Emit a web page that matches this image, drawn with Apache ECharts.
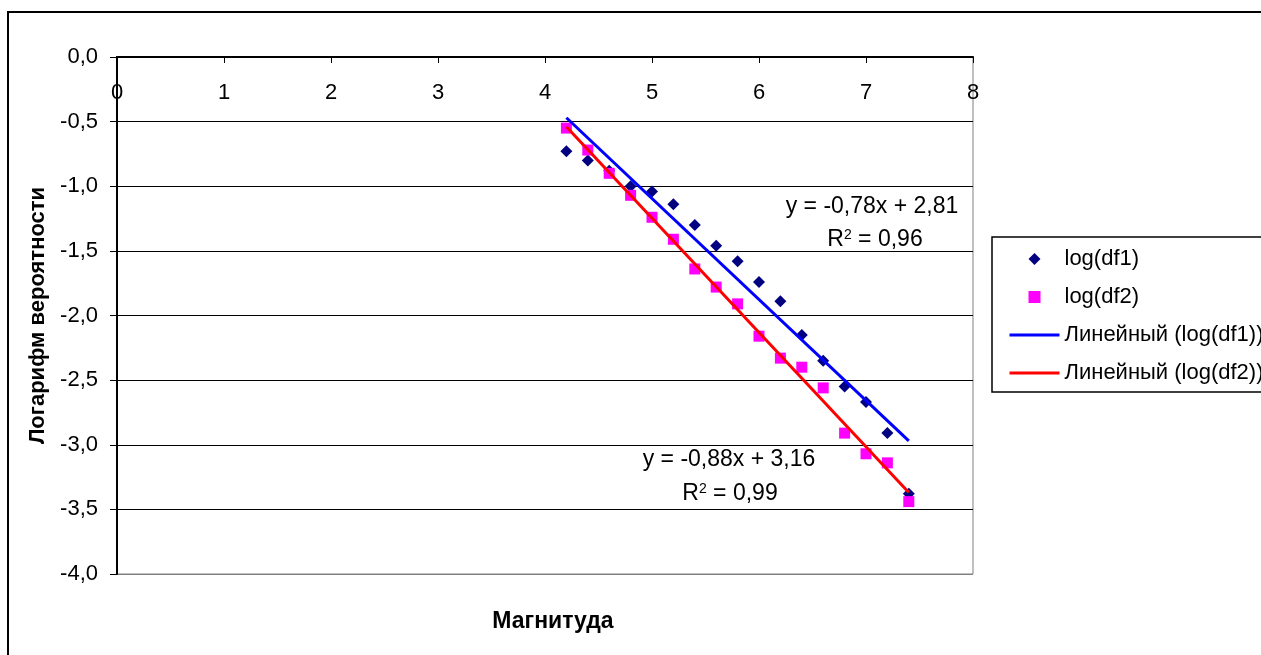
<!DOCTYPE html>
<html>
<head>
<meta charset="utf-8">
<script src="https://cdn.jsdelivr.net/npm/echarts@6/dist/echarts.min.js"></script>
<style>html,body{margin:0;padding:0;background:#fff}#c{width:1261px;height:655px}</style>
</head>
<body>
<div id="c"></div>
<script>
// Data
const magnitudes = [4.2, 4.4, 4.6, 4.8, 5.0, 5.2, 5.4, 5.6, 5.8, 6.0, 6.2, 6.4, 6.6, 6.8, 7.0, 7.2, 7.4];
const logDf1 = [-0.73, -0.80, -0.88, -1.00, -1.04, -1.14, -1.30, -1.46, -1.58, -1.74, -1.89, -2.15, -2.35, -2.55, -2.67, -2.91, -3.38];
const logDf2 = [-0.55, -0.72, -0.90, -1.07, -1.24, -1.41, -1.64, -1.78, -1.91, -2.16, -2.33, -2.40, -2.56, -2.91, -3.07, -3.14, -3.44];
const trendX = [4.2, 7.4];
const trend1Y = [-0.47, -2.97];
const trend2Y = [-0.54, -3.37];
const seriesNames = ['log(df1)', 'log(df2)', 'Линейный (log(df1))', 'Линейный (log(df2))'];
const eq1 = ['y = -0,78x + 2,81', '0,96'];
const eq2 = ['y = -0,88x + 3,16', '0,99'];
const xTitle = 'Магнитуда';
const yTitle = 'Логарифм вероятности';

const FONT = "'Liberation Sans', Arial, sans-serif";
const FS = 22;
const pair = (xs, ys) => xs.map((x, i) => [x, ys[i]]);

const chart = echarts.init(document.getElementById('c'), null, {renderer: 'canvas'});
const option = {
  backgroundColor: '#ffffff',
  animation: false,
  textStyle: {fontFamily: FONT, color: '#000'},
  grid: {left: 117, top: 57, right: 288, bottom: 81, show: true, borderColor: '#808080', borderWidth: 1, backgroundColor: 'transparent'},
  xAxis: {
    type: 'value', min: 0, max: 8, interval: 1, position: 'top',
    axisLine: {show: true, onZero: false, lineStyle: {color: '#000', width: 2}},
    axisTick: {show: true, inside: true, length: 6, lineStyle: {color: '#000', width: 1}},
    axisLabel: {inside: true, margin: 25, color: '#000', fontSize: FS, fontFamily: FONT},
    splitLine: {show: false}
  },
  yAxis: {
    type: 'value', min: -4, max: 0, interval: 0.5,
    name: yTitle, nameLocation: 'middle', nameRotate: 90, nameGap: 67,
    nameTextStyle: {fontWeight: 'bold', fontSize: FS, color: '#000', fontFamily: FONT},
    axisLine: {show: true, onZero: false, lineStyle: {color: '#000', width: 2}},
    axisTick: {show: true, inside: false, length: 7, lineStyle: {color: '#000', width: 1}},
    axisLabel: {margin: 19, color: '#000', fontSize: FS, fontFamily: FONT,
      formatter: v => v.toFixed(1).replace('.', ',')},
    splitLine: {show: true, lineStyle: {color: ['#808080', '#000', '#000', '#000', '#000', '#000', '#000', '#000', '#000'], width: 1}}
  },
  legend: {
    orient: 'vertical', left: 1003, top: 243,
    itemWidth: 50, itemHeight: 12, itemGap: 16, symbolKeepAspect: true,
    textStyle: {fontSize: FS, color: '#000', fontFamily: FONT, lineHeight: 22},
    data: [
      {name: seriesNames[0], icon: 'path://M6,0 L12,6 L6,12 L0,6 Z', itemStyle: {color: '#000080', opacity: 1}},
      {name: seriesNames[1], icon: 'path://M0,0 L11,0 L11,11 L0,11 Z', itemStyle: {color: '#FF00FF', opacity: 1}},
      {name: seriesNames[2], itemStyle: {color: 'rgba(0,0,0,0)', borderWidth: 0}, lineStyle: {color: '#0000FF', width: 3}},
      {name: seriesNames[3], itemStyle: {color: 'rgba(0,0,0,0)', borderWidth: 0}, lineStyle: {color: '#FF0000', width: 3}}
    ]
  },
  series: [
    {name: seriesNames[0], type: 'scatter', symbol: 'diamond', symbolSize: 12,
     itemStyle: {color: '#000080', opacity: 1}, data: pair(magnitudes, logDf1)},
    {name: seriesNames[1], type: 'scatter', symbol: 'rect', symbolSize: 11,
     itemStyle: {color: '#FF00FF', opacity: 1}, data: pair(magnitudes, logDf2)},
    {name: seriesNames[2], type: 'line', symbol: 'none', showSymbol: false,
     lineStyle: {color: '#0000FF', width: 3}, itemStyle: {color: '#0000FF'}, data: pair(trendX, trend1Y)},
    {name: seriesNames[3], type: 'line', symbol: 'none', showSymbol: false,
     lineStyle: {color: '#FF0000', width: 3}, itemStyle: {color: '#FF0000'}, data: pair(trendX, trend2Y)}
  ],
  graphic: [
    {type: 'rect', shape: {x: 8, y: 12, width: 1400, height: 800}, style: {fill: 'none', stroke: '#000', lineWidth: 2}, z: 100, silent: true},
    {type: 'rect', shape: {x: 992, y: 237, width: 400, height: 155}, style: {fill: 'none', stroke: '#000', lineWidth: 1.5}, z: 100, silent: true},
    {type: 'text', x: 872, y: 207, style: {text: eq1[0], font: '23px ' + FONT, fill: '#000', align: 'center', verticalAlign: 'middle'}},
    {type: 'text', x: 875, y: 240, style: {text: 'R{s|2} = ' + eq1[1], font: '23px ' + FONT, fill: '#000', align: 'center', verticalAlign: 'middle',
      rich: {s: {fontSize: 14, fontFamily: FONT, verticalAlign: 'top', padding: [0, 0, 9, 0]}}}},
    {type: 'text', x: 729, y: 460, style: {text: eq2[0], font: '23px ' + FONT, fill: '#000', align: 'center', verticalAlign: 'middle'}},
    {type: 'text', x: 730, y: 494, style: {text: 'R{s|2} = ' + eq2[1], font: '23px ' + FONT, fill: '#000', align: 'center', verticalAlign: 'middle',
      rich: {s: {fontSize: 14, fontFamily: FONT, verticalAlign: 'top', padding: [0, 0, 9, 0]}}}},
    {type: 'text', x: 553, y: 622, style: {text: xTitle, font: 'bold 23px ' + FONT, fill: '#000', align: 'center', verticalAlign: 'middle'}}
  ]
};
chart.setOption(option);
</script>
</body>
</html>
